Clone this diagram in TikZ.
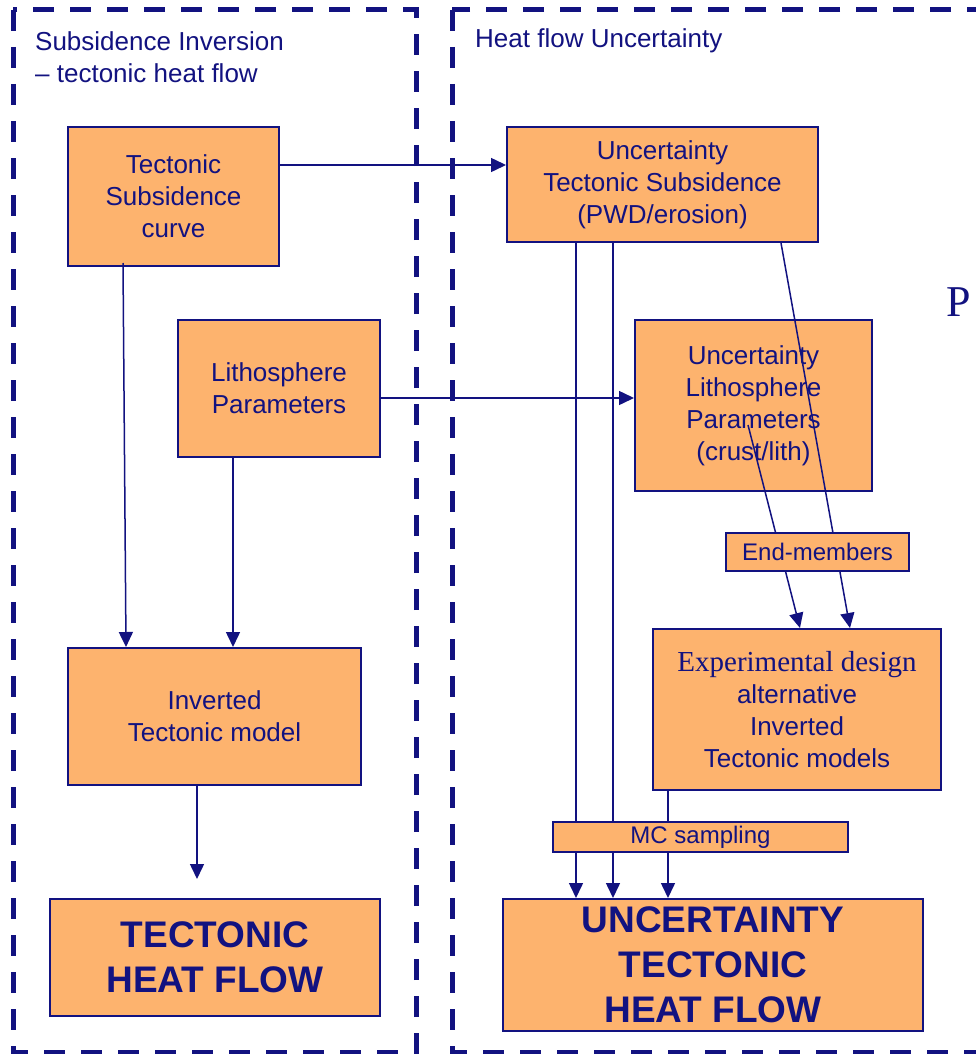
\documentclass[tikz,border=0pt]{standalone}
\usepackage{fontspec}
\setmainfont{Liberation Sans}
\newfontfamily\serifface{Liberation Serif}
\usetikzlibrary{arrows.meta}

\definecolor{navy}{RGB}{18,18,128}
\definecolor{boxfill}{RGB}{253,179,110}

\tikzstyle{frame}=[draw=navy,line width=5pt,dash pattern=on 21pt off 16pt]
\tikzstyle{box}=[draw=navy,line width=2pt,fill=boxfill,text=navy,align=center,inner sep=0pt,font=\fontsize{26}{32}\selectfont]
\tikzstyle{bigbox}=[box,font=\fontsize{37}{45}\selectfont\bfseries]
\tikzstyle{tag}=[text=navy,align=left,inner sep=0pt,font=\fontsize{26}{32}\selectfont]
\tikzstyle{flow}=[draw=navy,line width=1.5pt,-{Triangle[length=15pt,width=14pt]}]

\begin{document}
\begin{tikzpicture}[x=1pt,y=-1pt]

   \clip (0,0) rectangle (976,1054);
   \fill[white] (0,0) rectangle (976,1054);

   % Frames
   \draw[frame] (13,10) rectangle (416,1052);
   \draw[frame] (452,10) rectangle (1010,1052);

   \node[tag,anchor=west] (lefttag) at (35,57) {Subsidence Inversion\\\hbox{}– tectonic heat flow};
   \node[tag,anchor=west] (righttag) at (475,41) {Heat flow Uncertainty};
   \node[text=navy,anchor=west,inner sep=0pt,font=\serifface\fontsize{44}{46}\selectfont] (pcut) at (946,302) {P};

% Left column
   \node[box,minimum width=211pt,minimum height=139pt] (tsc) at (173.5,196.5) {Tectonic\\Subsidence\\curve};
   \node[box,minimum width=202pt,minimum height=137pt] (lith) at (279,388.5) {Lithosphere\\Parameters};
   \node[box,minimum width=293pt,minimum height=137pt] (inv) at (214.5,716.5) {Inverted\\Tectonic model};
   \node[bigbox,minimum width=330pt,minimum height=117pt] (thf) at (215,957.5) {TECTONIC\\HEAT FLOW};

% Right column
   \node[box,minimum width=311pt,minimum height=115pt] (uts) at (662.5,184.5) {Uncertainty\\Tectonic Subsidence\\(PWD/erosion)};
   \node[box,minimum width=237pt,minimum height=171pt] (ulp) at (753.5,405.5) {Uncertainty\\Lithosphere\\Parameters\\(crust/lith)};
   \node[box,minimum width=288pt,minimum height=161pt] (exp) at (797,709.5) {{\serifface\fontsize{29}{32}\selectfont Experimental design}\\alternative\\Inverted\\Tectonic models};
   \node[bigbox,minimum width=420pt,minimum height=132pt] (uthf) at (713,965) {UNCERTAINTY\\TECTONIC\\HEAT FLOW};

   % links across
   \coordinate (a1) at ([yshift=31.5pt]tsc.east);
   \draw[flow] (a1) -- (a1 -| uts.west);
   \coordinate (a2) at ([yshift=-9.5pt]lith.east);
   \draw[flow] (a2) -- (a2 -| ulp.west);

   \draw[flow] ([xshift=-50.5pt,yshift=4pt]tsc.south) -- ([xshift=-88.5pt]inv.north);
   \draw[flow] ([xshift=-46pt]lith.south) -- ([xshift=18.5pt]inv.north);
   \coordinate (hfin) at ([xshift=-18pt,yshift=19pt]thf.north);
   \draw[flow] ([xshift=-17.5pt]inv.south) -- (hfin);

   \coordinate (u1) at ([xshift=-86.5pt]uts.south);
   \coordinate (u2) at ([xshift=-49.5pt]uts.south);
   \coordinate (e1) at ([xshift=-129pt]exp.south);
   \draw[flow] (u1) -- (u1 |- uthf.north);
   \draw[flow] (u2) -- (u2 |- uthf.north);
   \draw[flow] (e1) -- (e1 |- uthf.north);

   \draw[flow] ([xshift=118.5pt]uts.south) -- ([xshift=53pt]exp.north);
   \draw[flow] ([xshift=-5.5pt,yshift=-19.5pt]ulp.center) -- ([xshift=3pt]exp.north);

   % labels laid over the lines
   \node[box,font=\fontsize{24}{28}\selectfont,minimum width=183pt,minimum height=38pt] (endm) at (817.5,552) {End-members};
   \node[box,font=\fontsize{24}{28}\selectfont,minimum width=295pt,minimum height=30pt] (mc) at (700.5,837) {MC sampling};

\end{tikzpicture}
\end{document}
